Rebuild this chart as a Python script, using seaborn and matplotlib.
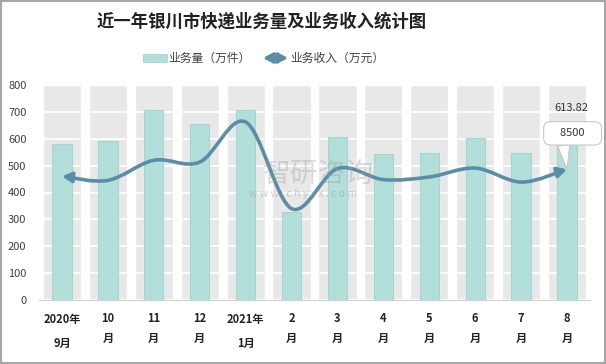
import numpy as np
import matplotlib
matplotlib.use("Agg")
import matplotlib.pyplot as plt
import seaborn as sns
from matplotlib.path import Path
from matplotlib.patches import FancyArrowPatch, Rectangle

# 数据
months = ['2020年\n9月', '10\n月', '11\n月', '12\n月', '2021年\n1月', '2\n月',
          '3\n月', '4\n月', '5\n月', '6\n月', '7\n月', '8\n月']
volume = [582, 593, 708, 654, 708, 329, 608, 543, 548, 604, 548, 613.82]   # 业务量（万件）
income = [8050, 7790, 9100, 8980, 11590, 5950, 8560, 7840, 8010, 8590, 7680, 8500]  # 业务收入（万元）

bar_color = '#b3dfdb'
line_color = '#5b8ea6'
band_color = '#e8e8e8'
text_color = '#404040'
arrow = '<|-|>,head_length=0.55,head_width=0.3'

sns.set_style('white')
plt.rcParams['font.family'] = ['Noto Sans CJK SC', 'DejaVu Sans']

fig = plt.figure(figsize=(6.06, 3.64), dpi=100)
ax = fig.add_axes([39 / 606, 1 - 300 / 364, 551 / 606, 215 / 364])

ymax = 800
band = [ymax] * len(months)
sns.barplot(x=months, y=band, color=band_color, width=0.83, saturation=1,
            zorder=0.8, ax=ax)
sns.barplot(x=months, y=volume, color=bar_color, width=0.42, saturation=1,
            edgecolor='#a3d6d1', linewidth=0.8, zorder=2, ax=ax)

ax.set_ylim(0, ymax)
ax.set_xlim(-0.5, len(months) - 0.5)
ax.set_yticks(range(0, ymax + 1, 100))
ax.set_axisbelow('line')
ax.yaxis.grid(True, color='white', lw=1.2)
ax.xaxis.grid(False)
for s in ['left', 'right', 'top']:
    ax.spines[s].set_visible(False)
ax.spines['bottom'].set_color('#d0d0d0')
ax.set_xticks(np.arange(-0.5, len(months), 1), minor=True)
ax.tick_params(axis='x', which='minor', length=4, color='#d0d0d0', width=0.8)
ax.tick_params(axis='x', which='major', length=0, pad=9)
ax.tick_params(axis='y', length=0, pad=9, labelsize=8, labelcolor=text_color)
ax.set_xlabel('')
ax.set_ylabel('')
for lab in ax.get_xticklabels():
    lab.set_fontsize(8)
    lab.set_fontweight('bold')
    lab.set_color('#222222')
    lab.set_linespacing(2.1 if '年' in lab.get_text() else 1.6)

# 业务收入：平滑曲线（贝塞尔），两端箭头
ax2 = ax.twinx()
ax2.set_ylim(0, 14000)
ax2.axis('off')
xs = np.arange(len(income), dtype=float)
ys = np.array(income, dtype=float)
P = np.column_stack([xs, ys])
Pp = np.vstack([P[0], P, P[-1]])
verts = [P[0]]
codes = [Path.MOVETO]
for i in range(len(P) - 1):
    p0, p1, p2, p3 = Pp[i], Pp[i + 1], Pp[i + 2], Pp[i + 3]
    verts += [p1 + (p2 - p0) / 6, p2 - (p3 - p1) / 6, p2]
    codes += [Path.CURVE4] * 3
curve = FancyArrowPatch(path=Path(verts, codes), arrowstyle=arrow,
                        color=line_color, lw=2.6, mutation_scale=10,
                        transform=ax2.transData, zorder=5)
ax2.add_patch(curve)

# 标注
ax.annotate(f'{volume[-1]:.2f}', xy=(len(months) - 1, volume[-1]), xytext=(3, 16),
            textcoords='offset points', ha='center', va='bottom', fontsize=8,
            color='#333333', zorder=6)
ax2.annotate('    8500    ', xy=(len(income) - 1, income[-1]), xytext=(4, 26),
             textcoords='offset points', ha='center', va='center', fontsize=8,
             color='#333333', zorder=7,
             bbox=dict(boxstyle='round,pad=0.6', fc='white', ec='#c8c8c8', lw=0.8),
             arrowprops=dict(arrowstyle='wedge,tail_width=1.1', fc='white',
                             ec='#c8c8c8', lw=0.8, relpos=(0.28, 0.0),
                             shrinkA=0, shrinkB=0))

# 标题与图例
fig.text(262 / 606, 1 - 22 / 364, '近一年银川市快递业务量及业务收入统计图',
         ha='center', va='center', fontsize=12.5, fontweight='bold', color='#222222')
ly = 1 - 58 / 364
fig.patches.append(Rectangle((143 / 606, ly - 0.012), 24 / 606, 0.024,
                             transform=fig.transFigure, fc=bar_color, ec='#a3d6d1', lw=0.6))
fig.text(168 / 606, ly, '业务量（万件）', ha='left', va='center', fontsize=8.5, color=text_color)
fig.patches.append(FancyArrowPatch((263 / 606, ly), (288 / 606, ly),
                                   arrowstyle=arrow, mutation_scale=10,
                                   color=line_color, lw=2.4, shrinkA=0, shrinkB=0,
                                   transform=fig.transFigure))
fig.text(290 / 606, ly, '业务收入（万元）', ha='left', va='center', fontsize=8.5, color=text_color)

# 水印
fig.text(318 / 606, 1 - 174 / 364, '智研咨询', ha='center', va='center', fontsize=20,
         color='#9a9a9a', alpha=0.35, zorder=10)
fig.text(303 / 606, 1 - 194 / 364, 'w w w . c h y x x . c o m', ha='center', va='center',
         fontsize=7.5, color='#9a9a9a', alpha=0.45, zorder=10)

# 外框
fig.patches.append(Rectangle((0.002, 0.003), 0.996, 0.994, transform=fig.transFigure,
                             fill=False, ec='#a6a6a6', lw=1.5))

fig.savefig('out.png', dpi=100)
